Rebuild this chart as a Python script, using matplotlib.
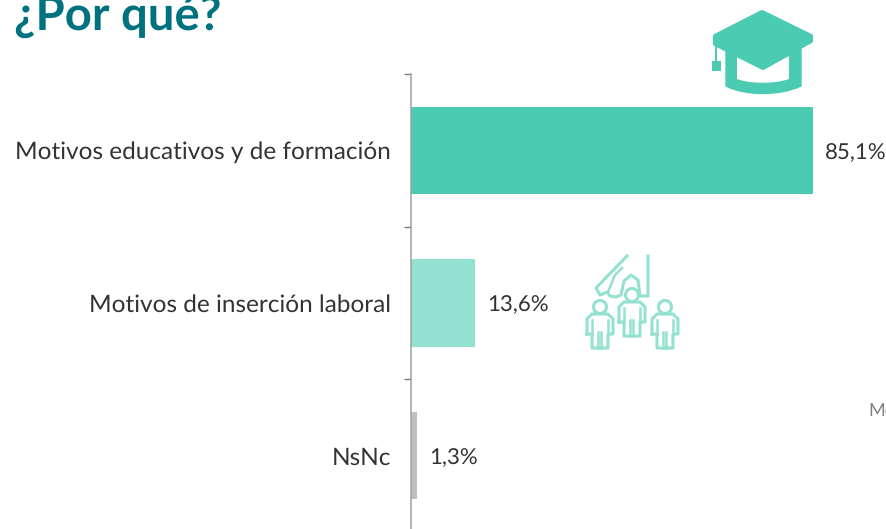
import matplotlib
matplotlib.use("Agg")
import matplotlib.pyplot as plt
from matplotlib.patches import Circle, PathPatch, Polygon, Rectangle
from matplotlib.path import Path

categorias = ['Motivos educativos y de formación', 'Motivos de inserción laboral', 'NsNc']
valores = [85.1, 13.6, 1.3]
etiquetas = ['85,1%', '13,6%', '1,3%']
colores = ['#4BCBB2', '#93E1D0', '#BFBFBF']

VERDE = '#4BCBB2'
VERDE_CLARO = '#93E1D0'

plt.rcParams['font.family'] = ['Lato', 'DejaVu Sans']
plt.rcParams['text.hinting'] = 'no_hinting'

W, H = 887, 529
fig = plt.figure(figsize=(W / 100, H / 100), dpi=100)

# eje principal, termina por debajo del borde como en el original
ax = fig.add_axes([411 / W, (H - 532) / H, 476 / W, 458 / H])
ax.barh(range(3), valores, height=0.57, color=colores)
ax.set_xlim(0, 100.76)
ax.set_ylim(2.5, -0.5)

for s in ['top', 'right', 'bottom']:
    ax.spines[s].set_visible(False)
ax.spines['left'].set_color('#A0A0A0')
ax.spines['left'].set_linewidth(1.1)
ax.set_xticks([])

ax.set_yticks(range(3))
ax.set_yticklabels(categorias, fontsize=17.6, color='#333333')
ax.tick_params(axis='y', which='major', length=0, pad=14.5)
ax.set_yticks([-0.5, 0.5, 1.5, 2.5], minor=True)
ax.tick_params(axis='y', which='minor', length=5, width=1, color='#7F7F7F')

for i, v in enumerate(valores):
    ax.annotate(etiquetas[i], (v, i), xytext=(8.5, -1.5), textcoords='offset points',
                va='center', ha='left', fontsize=16, color='#333333',
                annotation_clip=False)

# capa en pixeles para titulo e iconos
ov = fig.add_axes([0, 0, 1, 1], facecolor='none')
ov.set_xlim(0, W)
ov.set_ylim(H, 0)
ov.axis('off')

ov.text(14, 30, '¿Por qué?', fontsize=34, fontweight='bold', color='#00727F',
        family=['Lato', 'DejaVu Sans'], va='baseline', ha='left')
ov.text(868, 412, 'Mo', fontsize=13, color='#7F7F7F', va='center', ha='left')

# birrete
base = Path([(726, 46), (726, 86), (745, 96), (780, 96), (801, 86), (801, 46), (726, 46)],
            [Path.MOVETO, Path.LINETO, Path.CURVE4, Path.CURVE4, Path.CURVE4, Path.LINETO, Path.CLOSEPOLY])
ov.add_patch(PathPatch(base, fc=VERDE, ec=VERDE, lw=1))
hueco = Path([(737, 56), (763, 69), (789, 56), (789, 79), (775, 84), (750, 84), (737, 79), (737, 56)],
             [Path.MOVETO, Path.LINETO, Path.LINETO, Path.LINETO, Path.CURVE4, Path.CURVE4, Path.CURVE4, Path.CLOSEPOLY])
ov.add_patch(PathPatch(hueco, fc='white', ec='none'))
ov.add_patch(Polygon([(762, 12), (811, 36), (811, 41), (763, 68), (715, 44), (715, 36)],
                     closed=True, fc=VERDE, ec=VERDE, lw=3, joinstyle='round'))
ov.add_patch(Rectangle((715, 42), 2.4, 20, fc=VERDE, ec='none'))
ov.add_patch(Rectangle((712, 61), 9, 10, fc=VERDE, ec='none'))


# personas del icono de insercion laboral
def persona(x, y):
    cuerpo = [(-13, 27), (-13, 12), (-8, 7), (8, 7), (13, 12), (13, 27), (8, 27), (8, 41), (-8, 41), (-8, 27), (-13, 27)]
    ov.plot([x + a for a, b in cuerpo], [y + b for a, b in cuerpo], color=VERDE_CLARO, lw=2.2)
    ov.plot([x - 8, x - 8], [y + 13, y + 27], color=VERDE_CLARO, lw=1.8)
    ov.plot([x + 8, x + 8], [y + 13, y + 27], color=VERDE_CLARO, lw=1.8)
    ov.plot([x - 1.5, x - 1.5], [y + 25, y + 41], color=VERDE_CLARO, lw=1.8)
    ov.plot([x + 1.5, x + 1.5], [y + 25, y + 41], color=VERDE_CLARO, lw=1.8)
    ov.add_patch(Circle((x, y), 6.5, fc='white', ec=VERDE_CLARO, lw=2.2, zorder=3))


mano = [(627, 256), (596, 288), (600, 295), (607, 292), (610, 296), (616, 297),
        (621, 295), (624, 281), (631, 275), (638, 280), (640, 296), (648, 296), (648, 256)]
ov.plot([p[0] for p in mano], [p[1] for p in mano], color=VERDE_CLARO, lw=2.2)
ov.plot([608, 615, 622], [292, 275, 268], color=VERDE_CLARO, lw=1.8)
persona(600, 307)
persona(632, 295)
persona(665, 307)

fig.savefig('out.png', dpi=100)
